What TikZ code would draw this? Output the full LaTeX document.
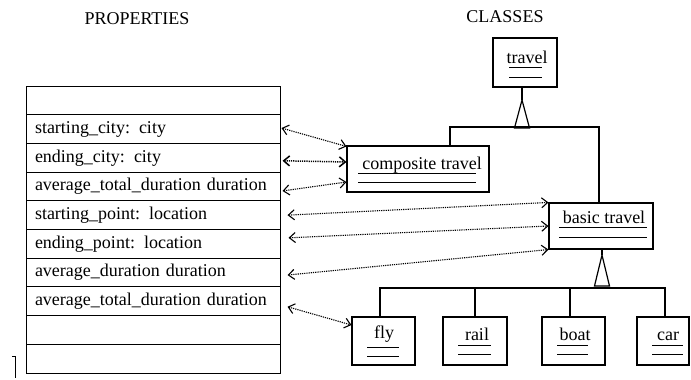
\documentclass[tikz,border=0pt]{standalone}
\usepackage{fontspec}
\setmainfont{Liberation Serif}
\usetikzlibrary{arrows.meta}
\begin{document}
\begin{tikzpicture}[x=1pt,y=-1pt,
  font=\fontsize{18}{20}\selectfont,
  rowbox/.style={draw,line width=1pt,minimum width=254pt,minimum height=28.7pt,text width=236pt,inner xsep=9pt,inner ysep=0pt,align=left},
  cls/.style={draw,line width=1.1pt,inner sep=0pt},
  lbl/.style={anchor=base,inner sep=0pt},
  uline/.style={line width=1pt},
  link/.style={line width=1.1pt,dash pattern=on 1.2pt off 1pt,{Straight Barb[length=6pt,width=10pt]}-{Straight Barb[length=6pt,width=10pt]}},
  gen/.style={line width=1.2pt},
]
\useasboundingbox (0,0) rectangle (691,380);

% titles
\node[lbl] (ptitle) at (137,24) {PROPERTIES};
\node[lbl] (ctitle) at (505,22) {CLASSES};

% property table
\node[rowbox] (r1)  at (153,100.35) {};
\node[rowbox] (r2)  at (153,129.05) {starting\_city: city};
\node[rowbox] (r3)  at (153,157.75) {ending\_city: city};
\node[rowbox] (r4)  at (153,186.45) {average\_total\_duration duration};
\node[rowbox] (r5)  at (153,215.15) {starting\_point: location};
\node[rowbox] (r6)  at (153,243.85) {ending\_point: location};
\node[rowbox] (r7)  at (153,272.55) {average\_duration duration};
\node[rowbox] (r8)  at (153,301.25) {average\_total\_duration duration};
\node[rowbox] (r9)  at (153,329.95) {};
\node[rowbox] (r10) at (153,358.65) {};
\draw[line width=1pt] (12,356) -- (15,356) -- (15,378);

% class boxes
\node[cls,minimum width=64pt,minimum height=49pt] (travel) at (525,62.5) {};
\node[cls,minimum width=142pt,minimum height=46pt] (comp) at (418,169) {};
\node[cls,minimum width=104pt,minimum height=46pt] (basic) at (601,226) {};
\node[cls,minimum width=63pt,minimum height=48pt] (fly) at (383.5,341) {};
\node[cls,minimum width=64pt,minimum height=48pt] (rail) at (475,341) {};
\node[cls,minimum width=63pt,minimum height=48pt] (boat) at (573.5,341) {};
\node[cls,minimum width=52pt,minimum height=48pt] (car) at (663,341) {};

% class names with double underline
\node[lbl] (travel-t) at (527,63) {travel};
\draw[uline] (509,67) -- (542,67) (509,77) -- (542,77);
\node[lbl] (comp-t) at (422,169) {composite travel};
\draw[uline] (358,173) -- (476,173) (358,182) -- (476,182);
\node[lbl] (basic-t) at (604,223) {basic travel};
\draw[uline] (559,227) -- (647,227) (559,237) -- (647,237);
\node[lbl] (fly-t) at (384,338) {fly};
\draw[uline] (367,347) -- (399,347) (367,356) -- (399,356);
\node[lbl] (rail-t) at (477,340) {rail};
\draw[uline] (458,345) -- (491,345) (458,354) -- (491,354);
\node[lbl] (boat-t) at (575,340) {boat};
\draw[uline] (557,345) -- (588,345) (557,354) -- (588,354);
\node[lbl] (car-t) at (668,340) {car};
\draw[uline] (652,345) -- (683,345) (652,354) -- (683,354);

% generalisation: travel
\coordinate (g1) at (522,100);
\coordinate (h1l) at (450,127);
\coordinate (h1r) at (599,127);
\draw[gen] ([xshift=-3pt]travel.south) -- (g1);
\draw[gen] (g1) -- (514.5,128) -- (529.5,128) -- cycle;
\draw[gen] (h1l |- comp.north) -- (h1l) -- (h1r) -- (h1r |- basic.north);

% generalisation: basic travel
\coordinate (g2) at (602,255);
\coordinate (h2l) at (380,288);
\coordinate (h2r) at (665,288);
\coordinate (h2a) at (475,288);
\coordinate (h2b) at (570,288);
\draw[gen] ([xshift=1pt]basic.south) -- (g2);
\draw[gen] (g2) -- (594.5,286) -- (609.5,286) -- cycle;
\draw[gen] (h2l |- fly.north) -- (h2l) -- (h2r) -- (h2r |- car.north);
\draw[gen] (h2a) -- (h2a |- rail.north);
\draw[gen] (h2b) -- (h2b |- boat.north);

% property links
\draw[link] ([xshift=1pt,yshift=1pt]r2.east) -- ([yshift=-1pt]comp.north west);
\draw[link,line width=1.5pt] ([xshift=2pt,yshift=-3pt]r3.east) -- ([yshift=7pt]comp.west);
\draw[link] ([xshift=2pt,yshift=-4.5pt]r4.east) -- ([yshift=-13pt]comp.west);
\draw[link] ([xshift=7pt]r5.east) -- (basic.north west);
\draw[link] ([xshift=8pt,yshift=6pt]r6.east) -- (basic.west);
\draw[link] ([xshift=7pt,yshift=-2.5pt]r7.east) -- (basic.south west);
\draw[link] ([xshift=7pt,yshift=-5.5pt]r8.east) -- ([yshift=16pt]fly.west);
\end{tikzpicture}
\end{document}
